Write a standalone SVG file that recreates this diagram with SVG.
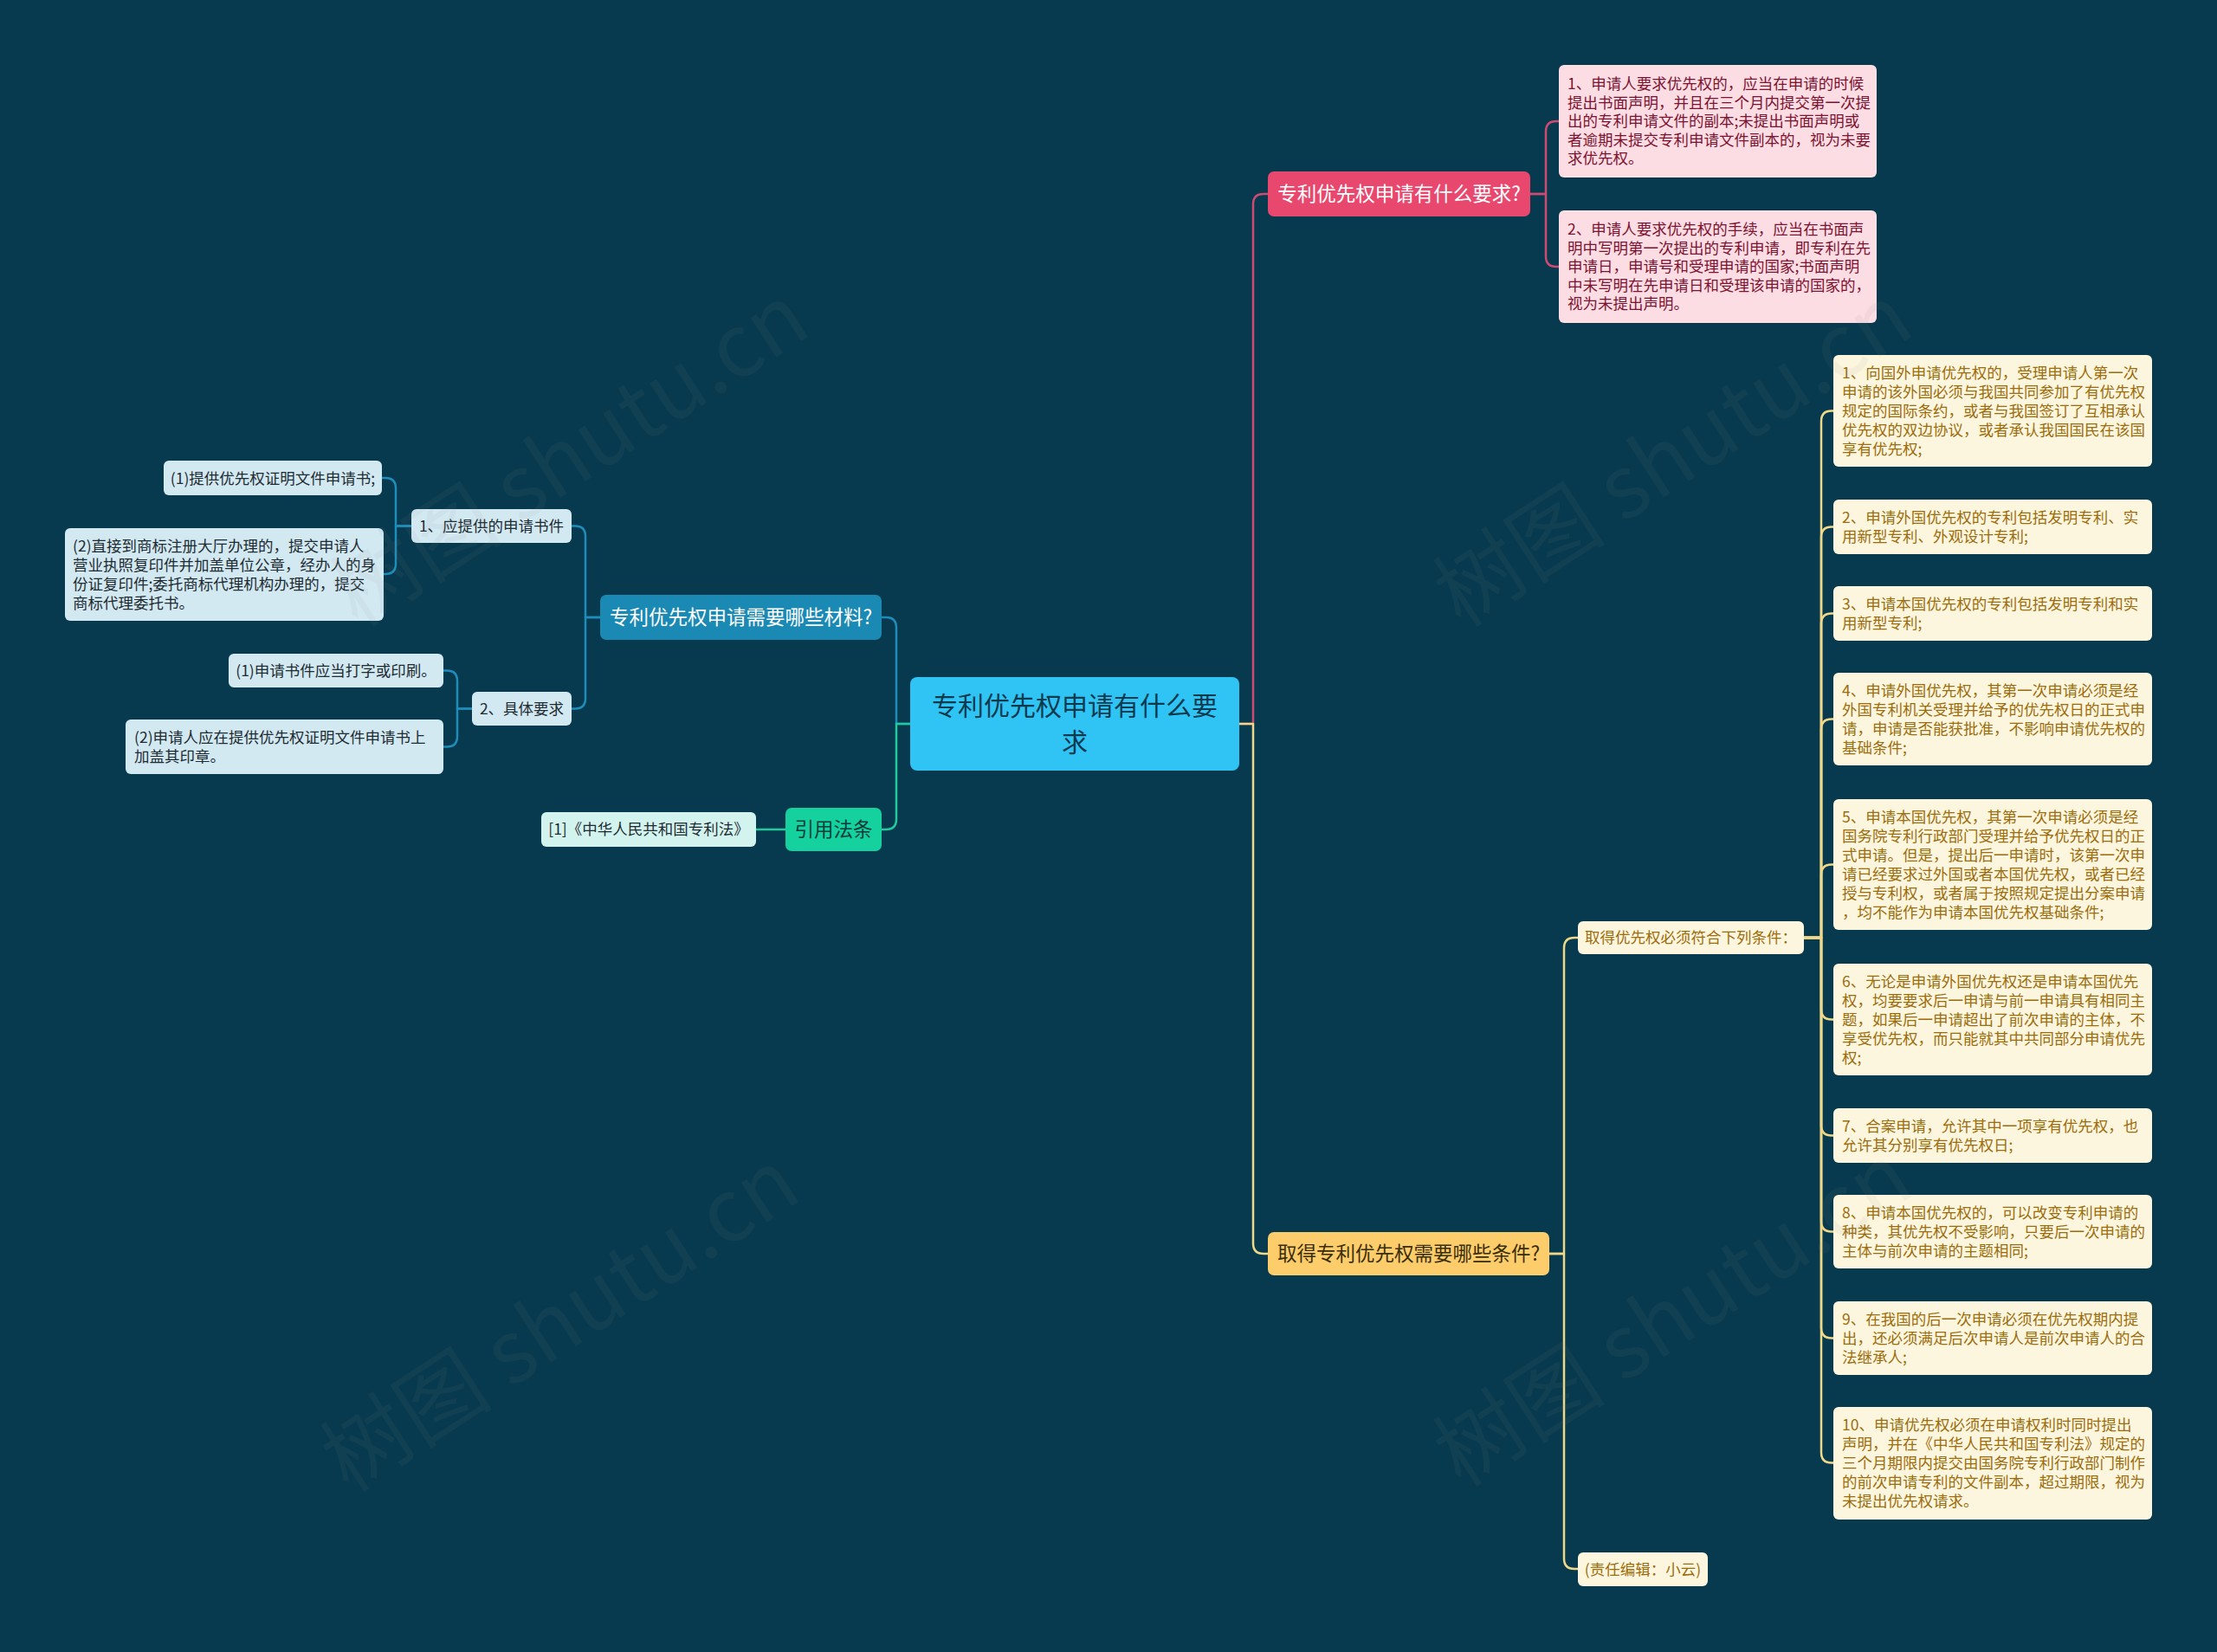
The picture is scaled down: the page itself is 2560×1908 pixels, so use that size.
<svg xmlns="http://www.w3.org/2000/svg" width="2560" height="1908" viewBox="0 0 2560 1908">
<style>
text{font-family:"Noto Sans CJK SC","Noto Sans",sans-serif;}
.ln{fill:none;stroke-width:2.5;stroke-linejoin:round;}
.pk{stroke:#CC4B72;}
.yl{stroke:#F0D889;}
.bl{stroke:#1E8DBA;}
.gr{stroke:#22C99B;}
.t17{font-size:17.5px;}
.pinkbox{fill:#FCDDE4;}
.pinktx{fill:#7D1230;}
.cream{fill:#FDF6DE;}
.creamtx{fill:#9B6D0C;}
.lb{fill:#D2E9F1;}
.lbtx{fill:#1E2B32;}
.wm{font-size:100px;fill:#8a8a8a;fill-opacity:0.08;}
</style>
<rect x="0" y="0" width="2560" height="1908" fill="#073A4E"/>

<g id="connectors">
  <path class="ln pk" stroke-width="3" d="M1430,836 H1447 V236 Q1447,224 1459,224 H1464"/>
  <path class="ln yl" stroke-width="3" d="M1430,836 H1447 V1436 Q1447,1448 1459,1448 H1464"/>
  <path class="ln bl" stroke-width="3" d="M1051,836 H1035 V725 Q1035,713 1023,713 H1018"/>
  <path class="ln gr" stroke-width="3" d="M1051,836 H1035 V946 Q1035,958 1023,958 H1018"/>
  <path class="ln gr" d="M907,958 H873"/>
  <path class="ln pk" d="M1767,224 H1785 V152 Q1785,140 1797,140 H1800"/>
  <path class="ln pk" d="M1767,224 H1785 V296 Q1785,308 1797,308 H1800"/>
  <path class="ln yl" d="M1789,1448 H1806 V1095 Q1806,1083 1818,1083 H1822"/>
  <path class="ln yl" d="M1789,1448 H1806 V1800 Q1806,1812 1818,1812 H1822"/>
  <path class="ln yl" d="M2083,1083 H2103 V486.5 Q2103,474.5 2115,474.5 H2117"/>
  <path class="ln yl" d="M2083,1083 H2103 V620.5 Q2103,608.5 2115,608.5 H2117"/>
  <path class="ln yl" d="M2083,1083 H2103 V720.5 Q2103,708.5 2115,708.5 H2117"/>
  <path class="ln yl" d="M2083,1083 H2103 V842.5 Q2103,830.5 2115,830.5 H2117"/>
  <path class="ln yl" d="M2083,1083 H2103 V1010.5 Q2103,998.5 2115,998.5 H2117"/>
  <path class="ln yl" d="M2083,1083 H2103 V1165.5 Q2103,1177.5 2115,1177.5 H2117"/>
  <path class="ln yl" d="M2083,1083 H2103 V1299.5 Q2103,1311.5 2115,1311.5 H2117"/>
  <path class="ln yl" d="M2083,1083 H2103 V1410.5 Q2103,1422.5 2115,1422.5 H2117"/>
  <path class="ln yl" d="M2083,1083 H2103 V1533.5 Q2103,1545.5 2115,1545.5 H2117"/>
  <path class="ln yl" d="M2083,1083 H2103 V1677.5 Q2103,1689.5 2115,1689.5 H2117"/>
  <path class="ln bl" d="M693,713 H676 V619.5 Q676,607.5 664,607.5 H660"/>
  <path class="ln bl" d="M693,713 H676 V806.5 Q676,818.5 664,818.5 H660"/>
  <path class="ln bl" d="M475,607.5 H457 V564 Q457,552 445,552 H441"/>
  <path class="ln bl" d="M475,607.5 H457 V651 Q457,663 445,663 H443"/>
  <path class="ln bl" d="M545,818.5 H528 V786.5 Q528,774.5 516,774.5 H512"/>
  <path class="ln bl" d="M545,818.5 H528 V850.5 Q528,862.5 516,862.5 H512"/>
</g>

<g id="central">
  <rect x="1051" y="782" width="380" height="108" rx="8" fill="#2FC4F4"/>
  <text x="1241" y="826" font-size="30" fill="#0B3A4F" text-anchor="middle">专利优先权申请有什么要</text>
  <text x="1241" y="868" font-size="30" fill="#0B3A4F" text-anchor="middle">求</text>
</g>

<g id="pink-main">
  <rect x="1464" y="198" width="303" height="52" rx="7" fill="#E8486D"/>
  <text x="1615.5" y="232" font-size="22.5" fill="#FFFFFF" text-anchor="middle">专利优先权申请有什么要求?</text>
</g>
<g id="pink-1">
  <rect class="pinkbox" x="1800" y="75" width="367" height="130" rx="6"/>
  <text class="t17 pinktx" x="1810" y="103">
    <tspan x="1810">1、申请人要求优先权的，应当在申请的时候</tspan>
    <tspan x="1810" dy="21.6">提出书面声明，并且在三个月内提交第一次提</tspan>
    <tspan x="1810" dy="21.6">出的专利申请文件的副本;未提出书面声明或</tspan>
    <tspan x="1810" dy="21.6">者逾期未提交专利申请文件副本的，视为未要</tspan>
    <tspan x="1810" dy="21.6">求优先权。</tspan>
  </text>
</g>
<g id="pink-2">
  <rect class="pinkbox" x="1800" y="243" width="367" height="130" rx="6"/>
  <text class="t17 pinktx" x="1810" y="271">
    <tspan x="1810">2、申请人要求优先权的手续，应当在书面声</tspan>
    <tspan x="1810" dy="21.6">明中写明第一次提出的专利申请，即专利在先</tspan>
    <tspan x="1810" dy="21.6">申请日，申请号和受理申请的国家;书面声明</tspan>
    <tspan x="1810" dy="21.6">中未写明在先申请日和受理该申请的国家的，</tspan>
    <tspan x="1810" dy="21.6">视为未提出声明。</tspan>
  </text>
</g>

<g id="yellow-main">
  <rect x="1464" y="1423" width="325" height="50" rx="7" fill="#FDCC6B"/>
  <text x="1626.5" y="1456" font-size="22.5" fill="#3A2E07" text-anchor="middle">取得专利优先权需要哪些条件?</text>
</g>
<g id="cond-head">
  <rect class="cream" x="1822" y="1064" width="261" height="38" rx="6"/>
  <text class="t17 creamtx" x="1952.5" y="1089" text-anchor="middle">取得优先权必须符合下列条件：</text>
</g>
<g id="editor">
  <rect class="cream" x="1822" y="1793" width="150" height="39" rx="6"/>
  <text class="t17 creamtx" x="1897" y="1818.5" text-anchor="middle">(责任编辑：小云)</text>
</g>

<g id="cond-1">
  <rect class="cream" x="2117" y="410" width="368" height="129" rx="6"/>
  <text class="t17 creamtx" x="2127" y="437">
    <tspan x="2127">1、向国外申请优先权的，受理申请人第一次</tspan>
    <tspan x="2127" dy="22">申请的该外国必须与我国共同参加了有优先权</tspan>
    <tspan x="2127" dy="22">规定的国际条约，或者与我国签订了互相承认</tspan>
    <tspan x="2127" dy="22">优先权的双边协议，或者承认我国国民在该国</tspan>
    <tspan x="2127" dy="22">享有优先权;</tspan>
  </text>
</g>
<g id="cond-2">
  <rect class="cream" x="2117" y="577" width="368" height="63" rx="6"/>
  <text class="t17 creamtx" x="2127" y="604">
    <tspan x="2127">2、申请外国优先权的专利包括发明专利、实</tspan>
    <tspan x="2127" dy="22">用新型专利、外观设计专利;</tspan>
  </text>
</g>
<g id="cond-3">
  <rect class="cream" x="2117" y="677" width="368" height="63" rx="6"/>
  <text class="t17 creamtx" x="2127" y="704">
    <tspan x="2127">3、申请本国优先权的专利包括发明专利和实</tspan>
    <tspan x="2127" dy="22">用新型专利;</tspan>
  </text>
</g>
<g id="cond-4">
  <rect class="cream" x="2117" y="777" width="368" height="107" rx="6"/>
  <text class="t17 creamtx" x="2127" y="804">
    <tspan x="2127">4、申请外国优先权，其第一次申请必须是经</tspan>
    <tspan x="2127" dy="22">外国专利机关受理并给予的优先权日的正式申</tspan>
    <tspan x="2127" dy="22">请，申请是否能获批准，不影响申请优先权的</tspan>
    <tspan x="2127" dy="22">基础条件;</tspan>
  </text>
</g>
<g id="cond-5">
  <rect class="cream" x="2117" y="923" width="368" height="151" rx="6"/>
  <text class="t17 creamtx" x="2127" y="950">
    <tspan x="2127">5、申请本国优先权，其第一次申请必须是经</tspan>
    <tspan x="2127" dy="22">国务院专利行政部门受理并给予优先权日的正</tspan>
    <tspan x="2127" dy="22">式申请。但是，提出后一申请时，该第一次申</tspan>
    <tspan x="2127" dy="22">请已经要求过外国或者本国优先权，或者已经</tspan>
    <tspan x="2127" dy="22">授与专利权，或者属于按照规定提出分案申请</tspan>
    <tspan x="2127" dy="22">，均不能作为申请本国优先权基础条件;</tspan>
  </text>
</g>
<g id="cond-6">
  <rect class="cream" x="2117" y="1113" width="368" height="129" rx="6"/>
  <text class="t17 creamtx" x="2127" y="1140">
    <tspan x="2127">6、无论是申请外国优先权还是申请本国优先</tspan>
    <tspan x="2127" dy="22">权，均要要求后一申请与前一申请具有相同主</tspan>
    <tspan x="2127" dy="22">题，如果后一申请超出了前次申请的主体，不</tspan>
    <tspan x="2127" dy="22">享受优先权，而只能就其中共同部分申请优先</tspan>
    <tspan x="2127" dy="22">权;</tspan>
  </text>
</g>
<g id="cond-7">
  <rect class="cream" x="2117" y="1280" width="368" height="63" rx="6"/>
  <text class="t17 creamtx" x="2127" y="1307">
    <tspan x="2127">7、合案申请，允许其中一项享有优先权，也</tspan>
    <tspan x="2127" dy="22">允许其分别享有优先权日;</tspan>
  </text>
</g>
<g id="cond-8">
  <rect class="cream" x="2117" y="1380" width="368" height="85" rx="6"/>
  <text class="t17 creamtx" x="2127" y="1407">
    <tspan x="2127">8、申请本国优先权的，可以改变专利申请的</tspan>
    <tspan x="2127" dy="22">种类，其优先权不受影响，只要后一次申请的</tspan>
    <tspan x="2127" dy="22">主体与前次申请的主题相同;</tspan>
  </text>
</g>
<g id="cond-9">
  <rect class="cream" x="2117" y="1503" width="368" height="85" rx="6"/>
  <text class="t17 creamtx" x="2127" y="1530">
    <tspan x="2127">9、在我国的后一次申请必须在优先权期内提</tspan>
    <tspan x="2127" dy="22">出，还必须满足后次申请人是前次申请人的合</tspan>
    <tspan x="2127" dy="22">法继承人;</tspan>
  </text>
</g>
<g id="cond-10">
  <rect class="cream" x="2117" y="1625" width="368" height="130" rx="6"/>
  <text class="t17 creamtx" x="2127" y="1652">
    <tspan x="2127">10、申请优先权必须在申请权利时同时提出</tspan>
    <tspan x="2127" dy="22">声明，并在《中华人民共和国专利法》规定的</tspan>
    <tspan x="2127" dy="22">三个月期限内提交由国务院专利行政部门制作</tspan>
    <tspan x="2127" dy="22">的前次申请专利的文件副本，超过期限，视为</tspan>
    <tspan x="2127" dy="22">未提出优先权请求。</tspan>
  </text>
</g>

<g id="blue-main">
  <rect x="693" y="687" width="325" height="52" rx="7" fill="#1A89B3"/>
  <text x="855.5" y="721" font-size="22.5" fill="#FFFFFF" text-anchor="middle">专利优先权申请需要哪些材料?</text>
</g>
<g id="law-main">
  <rect x="907" y="933" width="111" height="50" rx="7" fill="#14D19E"/>
  <text x="962.5" y="966" font-size="22.5" fill="#0B3B3B" text-anchor="middle">引用法条</text>
</g>
<g id="law-1">
  <rect x="625" y="938" width="248" height="40" rx="6" fill="#D3F4EE"/>
  <text class="t17 lbtx" x="749" y="964" text-anchor="middle">[1]《中华人民共和国专利法》</text>
</g>
<g id="mat-1">
  <rect class="lb" x="475" y="588" width="185" height="39" rx="6"/>
  <text class="t17 lbtx" x="567.5" y="614" text-anchor="middle">1、应提供的申请书件</text>
</g>
<g id="mat-2">
  <rect class="lb" x="545" y="799" width="115" height="39" rx="6"/>
  <text class="t17 lbtx" x="602.5" y="825" text-anchor="middle">2、具体要求</text>
</g>
<g id="mat-1-1">
  <rect class="lb" x="189" y="532" width="252" height="40" rx="6"/>
  <text class="t17 lbtx" x="315" y="558.5" text-anchor="middle">(1)提供优先权证明文件申请书;</text>
</g>
<g id="mat-1-2">
  <rect class="lb" x="75" y="610" width="368" height="107" rx="6"/>
  <text class="t17 lbtx" x="84" y="637">
    <tspan x="84">(2)直接到商标注册大厅办理的，提交申请人</tspan>
    <tspan x="84" dy="22">营业执照复印件并加盖单位公章，经办人的身</tspan>
    <tspan x="84" dy="22">份证复印件;委托商标代理机构办理的，提交</tspan>
    <tspan x="84" dy="22">商标代理委托书。</tspan>
  </text>
</g>
<g id="mat-2-1">
  <rect class="lb" x="264" y="755" width="248" height="39" rx="6"/>
  <text class="t17 lbtx" x="388" y="781" text-anchor="middle">(1)申请书件应当打字或印刷。</text>
</g>
<g id="mat-2-2">
  <rect class="lb" x="145" y="831" width="367" height="63" rx="6"/>
  <text class="t17 lbtx" x="155" y="858">
    <tspan x="155">(2)申请人应在提供优先权证明文件申请书上</tspan>
    <tspan x="155" dy="22">加盖其印章。</tspan>
  </text>
</g>

<g id="watermark">
  <text class="wm" x="653" y="519" text-anchor="middle" dominant-baseline="central" transform="rotate(-33 653 519)">树图 shutu.cn</text>
  <text class="wm" x="1927" y="519" text-anchor="middle" dominant-baseline="central" transform="rotate(-33 1927 519)">树图 shutu.cn</text>
  <text class="wm" x="642" y="1518" text-anchor="middle" dominant-baseline="central" transform="rotate(-33 642 1518)">树图 shutu.cn</text>
  <text class="wm" x="1927" y="1512" text-anchor="middle" dominant-baseline="central" transform="rotate(-33 1927 1512)">树图 shutu.cn</text>
</g>
</svg>
